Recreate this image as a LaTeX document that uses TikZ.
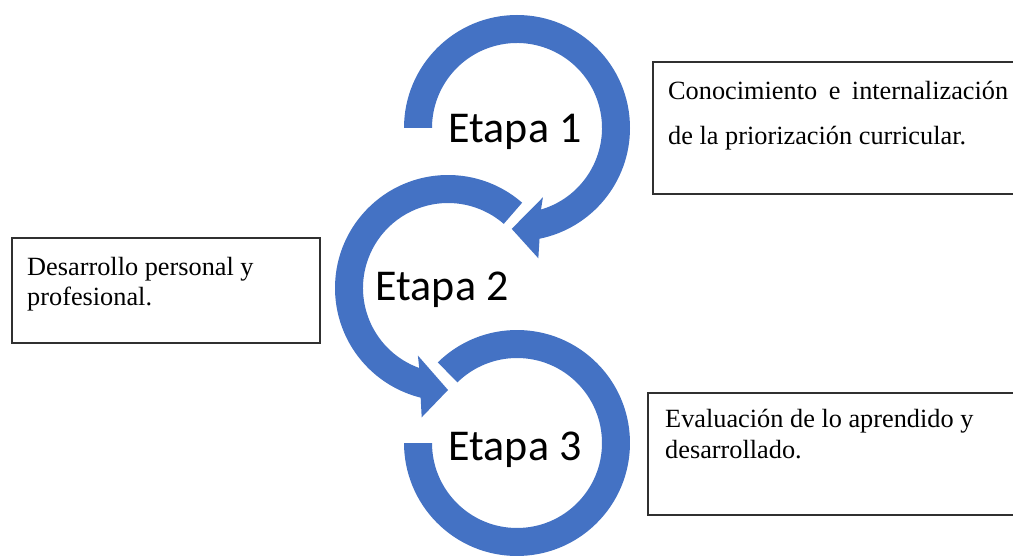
\documentclass[tikz,border=0pt]{standalone}
\usepackage{fontspec}
\setmainfont{Liberation Serif}
\newfontfamily\etapafont{Carlito}
\definecolor{ringblue}{HTML}{4472C4}
\definecolor{boxline}{HTML}{303030}
\begin{document}
\begin{tikzpicture}[x=1pt,y=1pt,
  ring/.style={fill=ringblue,draw=none},
  etapa/.style={anchor=base,inner sep=0pt,font=\etapafont\fontsize{44}{50}\selectfont},
  boxframe/.style={draw=boxline,line width=1.4pt,fill=none},
  boxtext/.style={anchor=base west,inner sep=0pt,font=\fontsize{26.3}{30}\selectfont}]
\useasboundingbox (0,0) rectangle (1013,558);
\clip (0,0) rectangle (1013,558);
\fill[white] (0,0) rectangle (1013,558);

% ring 1 (clockwise, arrow head)
\begin{scope}[shift={(517,430)}]
\fill[ring] (180:113) arc[start angle=180,end angle=-78.5,radius=113]
  -- (-80.7:132) -- (-93:101) -- (-69.5:74) -- (-73.6:85)
  arc[start angle=-73.6,end angle=180,radius=85] -- cycle;
\end{scope}
% ring 2 (counter-clockwise, arrow head)
\begin{scope}[shift={(448,270)}]
\fill[ring] (49:113) arc[start angle=49,end angle=256,radius=113]
  -- (258.5:132) -- (270:102) -- (246:74) -- (250.2:85)
  arc[start angle=250.2,end angle=49,radius=85] -- cycle;
\end{scope}
% ring 3
\begin{scope}[shift={(517,115)}]
\fill[ring] (134.5:113) arc[start angle=134.5,end angle=-180,radius=113]
  -- (180:85) arc[start angle=-180,end angle=134.5,radius=85] -- cycle;
\end{scope}

\node[etapa] (e1) at (515,415) {Etapa 1};
\node[etapa] (e2) at (442,258) {Etapa 2};
\node[etapa] (e3) at (515,98) {Etapa 3};

% boxes
\draw[boxframe] (653,496) rectangle (1025,364);
\draw[boxframe] (12,320) rectangle (320,215);
\draw[boxframe] (648,165) rectangle (1025,43);

\node[boxtext] (t1a) at (668,458) {\makebox[340pt][l]{Conocimiento\hfill e\hfill internalización}};
\node[boxtext] (t1b) at (668,413) {de la priorización curricular.};
\node[boxtext] (t2a) at (27,283) {Desarrollo personal y};
\node[boxtext] (t2b) at (27,253) {profesional.};
\node[boxtext] (t3a) at (665,131) {Evaluación de lo aprendido y};
\node[boxtext] (t3b) at (665,100) {desarrollado.};
\end{tikzpicture}
\end{document}
